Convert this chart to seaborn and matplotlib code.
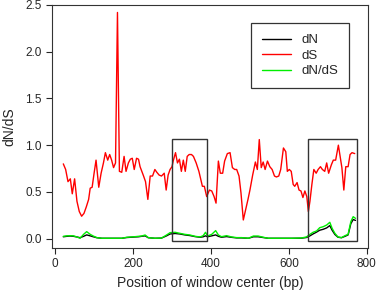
import matplotlib
matplotlib.use("Agg")
import matplotlib.pyplot as plt
from matplotlib.patches import Rectangle
import seaborn as sns
import pandas as pd

# window centres (bp) and dS values
ds_pos = [21, 27, 33, 39, 44, 50, 56, 62, 68, 74,
          80, 86, 90, 95, 100, 105, 112, 118, 124, 129,
          135, 140, 145, 150, 155, 160, 165, 171, 177, 182,
          188, 193, 198, 203, 209, 214, 218, 227, 232, 238,
          244, 250, 256, 261, 267, 273, 280, 285, 290, 295,
          300, 303, 309, 314, 319, 324, 329, 334, 339, 344,
          350, 355, 362, 369, 378, 383, 389, 396, 402, 408,
          413, 419, 424, 430, 435, 442, 449, 455, 461, 466,
          472, 477, 483, 489, 495, 500, 507, 514, 519, 524,
          529, 534, 539, 545, 551, 557, 563, 568, 574, 579,
          586, 592, 596, 601, 606, 611, 615, 621, 626, 631,
          636, 641, 646, 650, 654, 659, 664, 670, 675, 681,
          686, 692, 697, 702, 709, 714, 720, 727, 736, 741,
          746, 752, 757, 762, 769]
ds = [0.80, 0.74, 0.61, 0.64, 0.48, 0.64, 0.40, 0.29, 0.24, 0.27,
      0.34, 0.42, 0.54, 0.55, 0.70, 0.84, 0.55, 0.70, 0.81, 0.92,
      0.84, 0.90, 0.84, 0.76, 0.81, 2.42, 0.72, 0.71, 0.88, 0.72,
      0.81, 0.85, 0.86, 0.74, 0.86, 0.85, 0.77, 0.67, 0.61, 0.42,
      0.67, 0.67, 0.74, 0.71, 0.68, 0.67, 0.70, 0.52, 0.68, 0.74,
      0.77, 0.83, 0.92, 0.81, 0.85, 0.72, 0.84, 0.72, 0.88, 0.90,
      0.90, 0.88, 0.81, 0.72, 0.56, 0.56, 0.45, 0.52, 0.51, 0.45,
      0.38, 0.83, 0.70, 0.70, 0.83, 0.91, 0.92, 0.76, 0.74, 0.74,
      0.67, 0.49, 0.20, 0.31, 0.42, 0.52, 0.68, 0.82, 0.74, 1.06,
      0.76, 0.82, 0.74, 0.83, 0.77, 0.74, 0.67, 0.66, 0.67, 0.74,
      0.97, 0.93, 0.72, 0.74, 0.72, 0.58, 0.56, 0.60, 0.52, 0.51,
      0.44, 0.51, 0.45, 0.29, 0.40, 0.58, 0.74, 0.70, 0.74, 0.77,
      0.74, 0.72, 0.81, 0.70, 0.79, 0.84, 0.84, 1.00, 0.76, 0.52,
      0.77, 0.77, 0.90, 0.92, 0.91]

# dN and dN/dS (read at coarser positions)
dn_pos = [21, 30, 38, 47, 56, 64, 73, 81, 90, 98,
          107, 120, 140, 160, 171, 184, 195, 205, 214, 222,
          231, 239, 256, 273, 286, 295, 308, 320, 333, 346,
          359, 372, 380, 386, 391, 402, 412, 419, 427, 440,
          453, 466, 479, 496, 509, 521, 534, 547, 581, 607,
          632, 645, 654, 662, 671, 679, 688, 697, 705, 711,
          718, 726, 735, 744, 752, 759, 765, 771]
dnds = [0.025, 0.03, 0.032, 0.03, 0.018, 0.004, 0.046, 0.075, 0.046, 0.028,
        0.011, 0.004, 0.004, 0.004, 0.004, 0.015, 0.018, 0.021, 0.025, 0.028,
        0.039, 0.011, 0.004, 0.006, 0.039, 0.064, 0.068, 0.057, 0.046, 0.039,
        0.025, 0.018, 0.032, 0.068, 0.028, 0.046, 0.086, 0.039, 0.021, 0.032,
        0.018, 0.011, 0.011, 0.004, 0.028, 0.028, 0.015, 0.004, 0.004, 0.004,
        0.007, 0.018, 0.046, 0.068, 0.082, 0.117, 0.128, 0.146, 0.175, 0.110,
        0.057, 0.018, 0.011, 0.032, 0.046, 0.182, 0.235, 0.217]
dn = [0.02, 0.025, 0.028, 0.025, 0.018, 0.01, 0.025, 0.04, 0.03, 0.02,
      0.01, 0.004, 0.004, 0.004, 0.004, 0.012, 0.015, 0.018, 0.02, 0.025,
      0.03, 0.01, 0.004, 0.006, 0.03, 0.05, 0.055, 0.05, 0.04, 0.033,
      0.022, 0.015, 0.02, 0.03, 0.02, 0.03, 0.04, 0.025, 0.015, 0.022,
      0.014, 0.008, 0.008, 0.004, 0.02, 0.02, 0.012, 0.004, 0.004, 0.004,
      0.005, 0.012, 0.03, 0.05, 0.07, 0.09, 0.1, 0.115, 0.14, 0.09,
      0.045, 0.015, 0.01, 0.025, 0.04, 0.16, 0.205, 0.195]

# highlighted regions (bp) and box height
boxed = [(300, 390), (650, 775)]
box_top = 1.07

x_ticks = [0, 200, 400, 600, 800]
y_ticks = [0.0, 0.5, 1.0, 1.5, 2.0, 2.5]

df = pd.concat([
    pd.DataFrame({"pos": dn_pos, "value": dn, "series": "dN"}),
    pd.DataFrame({"pos": ds_pos, "value": ds, "series": "dS"}),
    pd.DataFrame({"pos": dn_pos, "value": dnds, "series": "dN/dS"}),
])

sns.set_style("ticks")
plt.rcParams["font.family"] = ["Liberation Sans", "DejaVu Sans"]

fig = plt.figure(figsize=(3.78, 2.93), dpi=100)
ax = fig.add_axes([0.1376, 0.1536, 0.8359, 0.8294])

#draw the three series, green last so it sits on top of black
palette = {"dN": "black", "dS": "#ff0000", "dN/dS": "#00ee00"}
sns.lineplot(data=df, x="pos", y="value", hue="series", palette=palette,
             hue_order=["dN", "dS", "dN/dS"], estimator=None, sort=False,
             linewidth=1.0, ax=ax)

#boxes around the highlighted regions
for lo, hi in boxed:
    ax.add_patch(Rectangle((lo, -0.02), hi - lo, box_top + 0.02, fill=False,
                           edgecolor="#333333", linewidth=1.0, zorder=5))

ax.set_xlim(-8, 803)
ax.set_ylim(-0.1, 2.5)
ax.set_xticks(x_ticks)
ax.set_yticks(y_ticks)
ax.set_yticklabels([f"{v:.1f}" for v in y_ticks])
ax.tick_params(labelsize=8.5, length=4, width=0.8, direction="out")
for s in ax.spines.values():
    s.set_visible(True)
    s.set_linewidth(0.8)
    s.set_color("#333333")

ax.set_xlabel("Position of window center (bp)", fontsize=10)
ax.set_ylabel("dN/dS", fontsize=10, labelpad=6)

h, l = ax.get_legend_handles_labels()
leg = ax.legend(h, l, loc="upper right", bbox_to_anchor=(0.941, 0.927),
                fontsize=9.5, frameon=True, fancybox=False, borderpad=0.85,
                handlelength=2.2, handletextpad=0.75, labelspacing=0.25,
                borderaxespad=0)
leg.get_frame().set_edgecolor("black")
leg.get_frame().set_linewidth(0.9)

fig.savefig("out.png", dpi=100)
